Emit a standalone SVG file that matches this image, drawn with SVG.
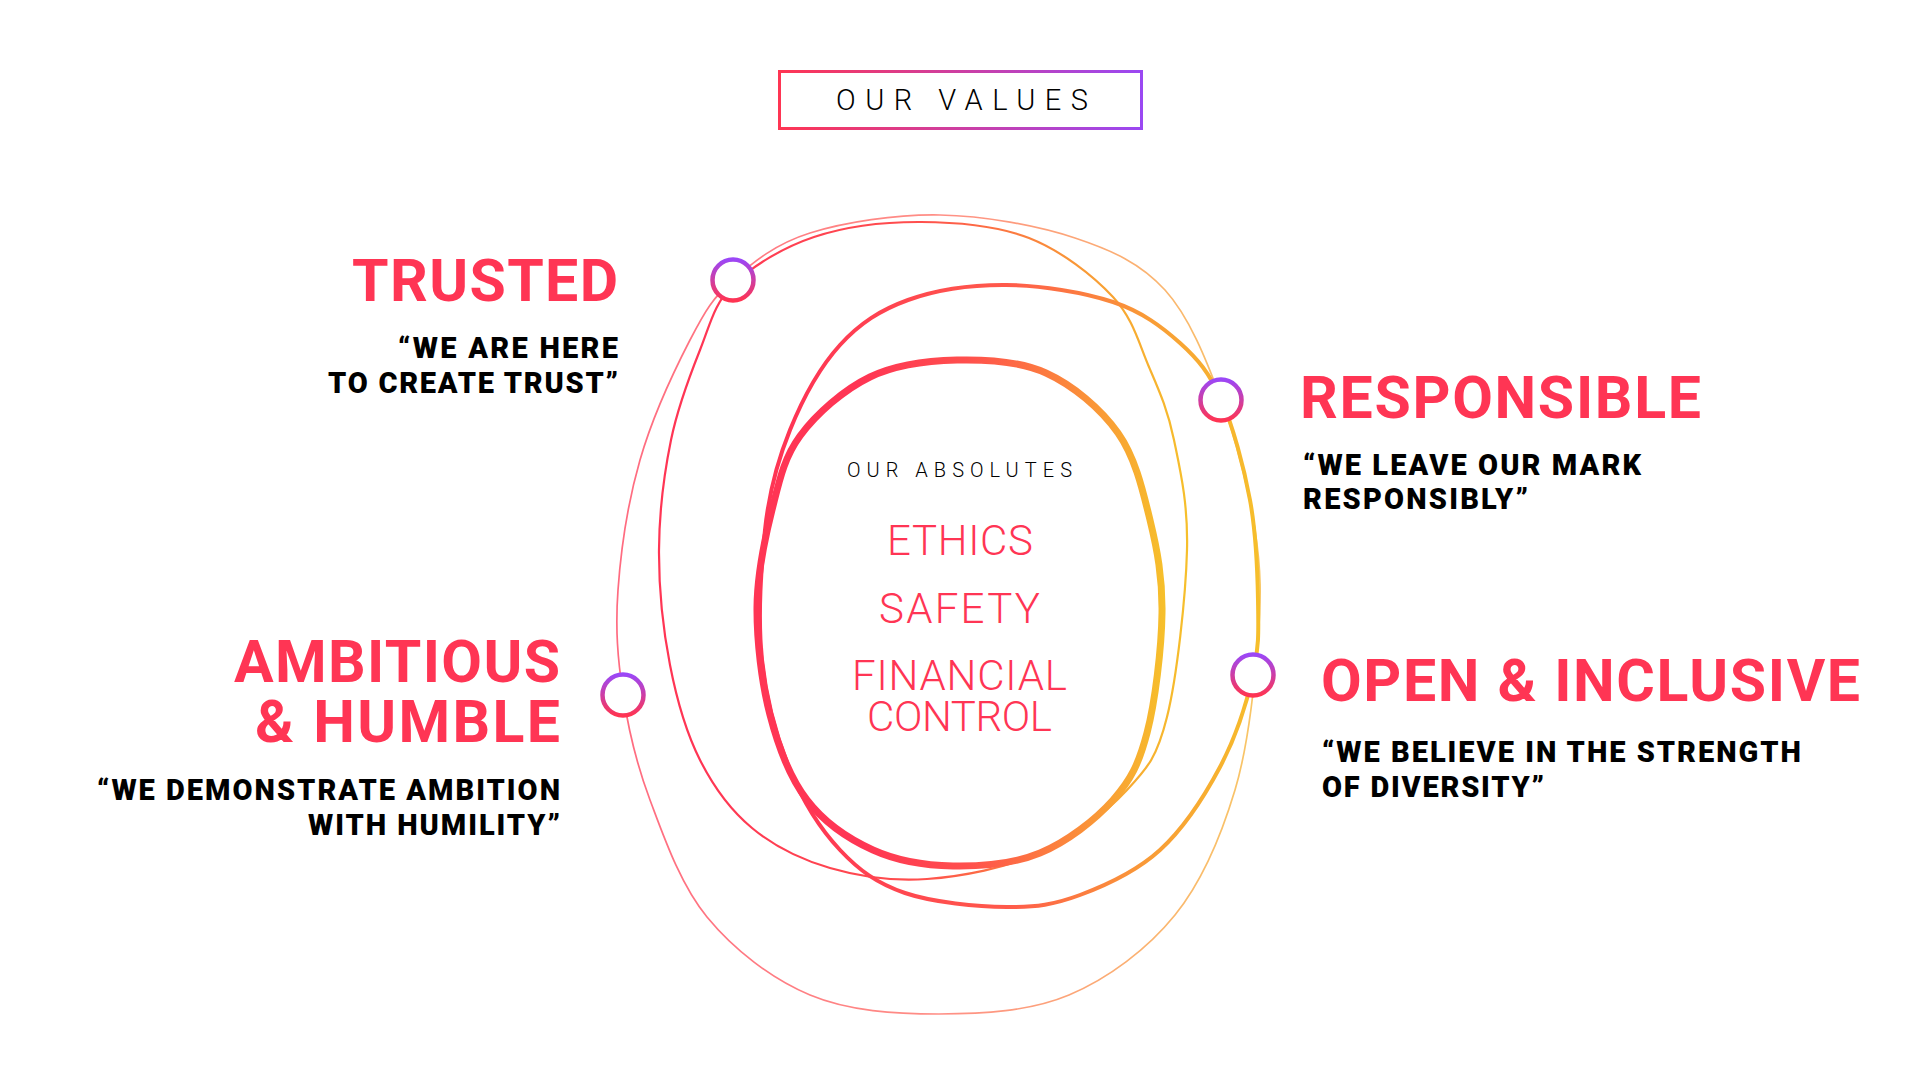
<svg xmlns="http://www.w3.org/2000/svg" width="1920" height="1080" viewBox="0 0 1920 1080">
<defs>
<style>
.h{font-family:Roboto,"Liberation Sans",sans-serif;font-weight:700;font-size:59px;fill:#ff3554}
.q{font-family:Roboto,"Liberation Sans",sans-serif;font-weight:900;font-size:29px;fill:#000}
.a{font-family:Roboto,"Liberation Sans",sans-serif;font-weight:300;font-size:42px;fill:#ff3554}
.t{font-family:Roboto,"Liberation Sans",sans-serif;font-weight:300;fill:#000}
.node{fill:#fff;stroke:url(#gNode);stroke-width:4.5}
.loop{fill:none;stroke-linejoin:round}
</style>
<linearGradient id="gNode" x1="0" y1="0" x2="0" y2="1">
<stop offset="0" stop-color="#9b47f7"/>
<stop offset="1" stop-color="#ff3452"/>
</linearGradient>
<linearGradient id="gBox" x1="778" y1="0" x2="1143" y2="0" gradientUnits="userSpaceOnUse">
<stop offset="0" stop-color="#ff3552"/>
<stop offset="1" stop-color="#9a48f3"/>
</linearGradient>
<linearGradient id="gThick" x1="860" y1="0" x2="1165" y2="0" gradientUnits="userSpaceOnUse">
<stop offset="0" stop-color="#ff3554"/>
<stop offset="0.35" stop-color="#ff4f4d"/>
<stop offset="0.7" stop-color="#fb8a3b"/>
<stop offset="1" stop-color="#f6c02b"/>
</linearGradient>
<linearGradient id="gMed" x1="800" y1="0" x2="1260" y2="0" gradientUnits="userSpaceOnUse">
<stop offset="0" stop-color="#ff3554"/>
<stop offset="0.45" stop-color="#ff5a4b"/>
<stop offset="0.75" stop-color="#f99a37"/>
<stop offset="1" stop-color="#f6bf2b"/>
</linearGradient>
<linearGradient id="gThin" x1="700" y1="0" x2="1190" y2="0" gradientUnits="userSpaceOnUse">
<stop offset="0" stop-color="#ff3554"/>
<stop offset="0.45" stop-color="#ff4f4d"/>
<stop offset="0.75" stop-color="#f99438"/>
<stop offset="1" stop-color="#f6c02b"/>
</linearGradient>
<linearGradient id="gOuter" x1="620" y1="0" x2="1262" y2="0" gradientUnits="userSpaceOnUse">
<stop offset="0" stop-color="#ff6b80"/>
<stop offset="0.5" stop-color="#ff8f86"/>
<stop offset="1" stop-color="#f8c765"/>
</linearGradient>
</defs>
<rect width="1920" height="1080" fill="#fff"/>

<g id="header">
<rect x="779.5" y="71.5" width="362" height="57" fill="#fff" stroke="url(#gBox)" stroke-width="3"/>
<text class="t" x="836" y="110" font-size="29" textLength="252">OUR VALUES</text>
</g>

<g id="connectors">
<path id="loop-outer" class="loop" stroke="url(#gOuter)" stroke-width="1.7" d="M940,215 C984.2,215.8 1037.5,225.5 1075,238 C1112.5,250.5 1140.7,263.2 1165,290 C1189.3,316.8 1206,359 1221,399 C1236,439 1248.8,489.8 1255,530 C1261.2,570.2 1261.3,596.7 1258,640 C1254.7,683.3 1248.8,744.2 1235,790 C1221.2,835.8 1202.7,880.8 1175,915 C1147.3,949.2 1108.3,978.5 1069,995 C1029.7,1011.5 982.2,1014 939,1014 C895.8,1014 848.7,1011.2 810,995 C771.3,978.8 733.7,949.5 707,917 C680.3,884.5 664,837.2 650,800 C636,762.8 628.3,729 623,694 C617.7,659 615.2,629 618,590 C620.8,551 628,501.7 640,460 C652,418.3 674.5,370 690,340 C705.5,310 713,297.8 733,280 C753,262.2 775.5,243.8 810,233 C844.5,222.2 895.8,214.2 940,215 Z"/>
<path id="loop-thin" class="loop" stroke="url(#gThin)" stroke-width="2.2" d="M921,222 C956.8,222.2 997,225.5 1029,238 C1061,250.5 1093,275.5 1113,297 C1133,318.5 1138.8,343.2 1149,367 C1159.2,390.8 1167.7,409.5 1174,440 C1180.3,470.5 1188.2,503.8 1187,550 C1185.8,596.2 1177,677 1167,717 C1157,757 1148.2,767.3 1127,790 C1105.8,812.7 1073.3,838.2 1040,853 C1006.7,867.8 962,876.5 927,879 C892,881.5 859.2,876.5 830,868 C800.8,859.5 773.7,846 752,828 C730.3,810 713.7,787.2 700,760 C686.3,732.8 676.8,700 670,665 C663.2,630 658.8,587.5 659,550 C659.2,512.5 664.2,473.3 671,440 C677.8,406.7 689.7,375.8 700,350 C710.3,324.2 714,303.8 733,285 C752,266.2 782.7,247.5 814,237 C845.3,226.5 885.2,221.8 921,222 Z"/>
<path id="loop-medium" class="loop" stroke="url(#gMed)" stroke-width="4" d="M1006,285 C1040.2,285.3 1084,292.3 1113,302 C1142,311.7 1162,326.8 1180,343 C1198,359.2 1209.3,372.8 1221,399 C1232.7,425.2 1243.8,466.5 1250,500 C1256.2,533.5 1257.5,570.8 1258,600 C1258.5,629.2 1259.3,647.2 1253,675 C1246.7,702.8 1235.5,737.8 1220,767 C1204.5,796.2 1183.3,828.7 1160,850 C1136.7,871.3 1105.5,885.5 1080,895 C1054.5,904.5 1036.2,907.3 1007,907 C977.8,906.7 932.8,902.5 905,893 C877.2,883.5 859.2,870.5 840,850 C820.8,829.5 803,801.7 790,770 C777,738.3 766.2,700 762,660 C757.8,620 760.8,570 765,530 C769.2,490 777.5,460.8 790,430 C802.5,399.2 820.3,366.7 840,345 C859.7,323.3 880.3,310 908,300 C935.7,290 971.8,284.7 1006,285 Z"/>
<path id="loop-thick" class="loop" stroke="url(#gThick)" stroke-width="7" d="M957,360 C986.3,359.3 1019.2,360.8 1046,373 C1072.8,385.2 1100.7,408.5 1118,433 C1135.3,457.5 1142.7,490 1150,520 C1157.3,550 1162.5,577.5 1162,613 C1161.5,648.5 1155.2,701.8 1147,733 C1138.8,764.2 1130.8,780 1113,800 C1095.2,820 1066.7,842 1040,853 C1013.3,864 980.8,866.5 953,866 C925.2,865.5 897.3,861 873,850 C848.7,839 824.2,822.5 807,800 C789.8,777.5 778.3,747.2 770,715 C761.7,682.8 756.7,641.2 757,607 C757.3,572.8 764.8,538.5 772,510 C779.2,481.5 783.7,458.2 800,436 C816.3,413.8 843.8,389.7 870,377 C896.2,364.3 927.7,360.7 957,360 Z"/>
</g>

<g id="absolutes">
<text class="t" x="847" y="477" font-size="20" textLength="225">OUR ABSOLUTES</text>
<text class="a" x="887" y="555" textLength="146">ETHICS</text>
<text class="a" x="879" y="623" textLength="161">SAFETY</text>
<text class="a"><tspan x="852" y="690" textLength="215">FINANCIAL</tspan><tspan x="867" y="731" textLength="185">CONTROL</tspan></text>
</g>

<g id="trusted">
<circle class="node" cx="733" cy="280" r="20.5"/>
<text class="h" x="352" y="301" textLength="266">TRUSTED</text>
<text class="q"><tspan x="398" y="358" textLength="220">“WE ARE HERE</tspan><tspan x="328" y="393" textLength="290">TO CREATE TRUST”</tspan></text>
</g>

<g id="responsible">
<circle class="node" cx="1221" cy="400" r="20.5"/>
<text class="h" x="1300" y="418" textLength="401">RESPONSIBLE</text>
<text class="q"><tspan x="1303" y="475" textLength="338">“WE LEAVE OUR MARK</tspan><tspan x="1303" y="509" textLength="225">RESPONSIBLY”</tspan></text>
</g>

<g id="ambitious">
<circle class="node" cx="623" cy="695" r="20.5"/>
<text class="h"><tspan x="234" y="682" textLength="326">AMBITIOUS</tspan><tspan x="255" y="742" textLength="305">&amp; HUMBLE</tspan></text>
<text class="q"><tspan x="97" y="800" textLength="463">“WE DEMONSTRATE AMBITION</tspan><tspan x="308" y="835" textLength="252">WITH HUMILITY”</tspan></text>
</g>

<g id="open-inclusive">
<circle class="node" cx="1253" cy="675" r="20.5"/>
<text class="h" x="1321" y="701" textLength="539">OPEN &amp; INCLUSIVE</text>
<text class="q"><tspan x="1322" y="762" textLength="479">“WE BELIEVE IN THE STRENGTH</tspan><tspan x="1322" y="797" textLength="222">OF DIVERSITY”</tspan></text>
</g>
</svg>
